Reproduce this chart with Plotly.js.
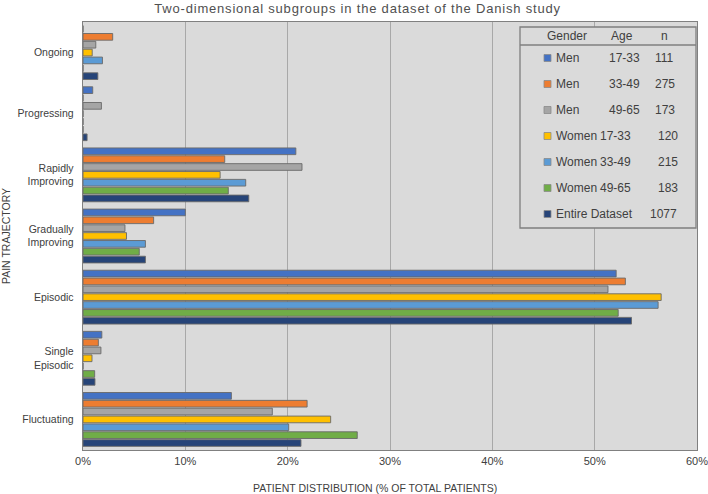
<!DOCTYPE html>
<html>
<head>
<meta charset="utf-8">
<script src="https://cdn.plot.ly/plotly-3.0.1.min.js"></script>
<style>html,body{margin:0;padding:0;background:#fff;}#chart{width:708px;height:494px;}
#chart .gtitle{letter-spacing:0.8px;}</style>
</head>
<body>
<div id="chart"></div>
<script>
// ---- data ----
const categories = ["Ongoing", "Progressing", "Rapidly<br>Improving", "Gradually<br>Improving", "Episodic", "Single<br>Episodic", "Fluctuating"];
const men1733   = [0,    0.95, 20.8, 10.0, 52.1, 1.84, 14.5];
const men3349   = [2.9,  0,    13.85, 6.9, 53.0, 1.5,  21.9];
const men4965   = [1.25, 1.8,  21.4, 4.1,  51.3, 1.75, 18.5];
const women1733 = [0.9,  0,    13.4, 4.25, 56.5, 0.88, 24.2];
const women3349 = [1.9,  0,    15.9, 6.1,  56.2, 0,    20.1];
const women4965 = [0,    0,    14.2, 5.5,  52.3, 1.14, 26.8];
const entire    = [1.45, 0.4,  16.2, 6.1,  53.6, 1.17, 21.3];
const genders = ["Men", "Men", "Men", "Women", "Women", "Women", "Entire Dataset"];
const ages    = ["17-33", "33-49", "49-65", "17-33", "33-49", "49-65", ""];
const counts  = ["111", "275", "173", "120", "215", "183", "1077"];
const xTickVals = [0, 10, 20, 30, 40, 50, 60];
const xTickText = ["0%", "10%", "20%", "30%", "40%", "50%", "60%"];

// ---- style ----
const colors = ["#4472C4", "#ED7D31", "#A5A5A5", "#FFC000", "#5B9BD5", "#70AD47", "#264478"];
const series = [men1733, men3349, men4965, women1733, women3349, women4965, entire];
const font = "Liberation Sans, Arial, sans-serif";
const textColor = "#404040";

const W = 708, H = 494, L = 83, R = 11, T = 22, B = 44;
const pw = W - L - R, ph = H - T - B;
const px = x => (x - L) / pw;
const py = y => (H - B - y) / ph;

const traces = series.map((vals, i) => ({
  type: "bar",
  orientation: "h",
  name: genders[i] + " " + ages[i],
  y: categories,
  x: vals,
  marker: {color: colors[i], line: {color: "rgba(105,105,105,0.9)", width: 1}},
  hoverinfo: "x+name"
}));

// legend box drawn with shapes + annotations
const shapes = [
  {type: "rect", xref: "paper", yref: "paper", x0: px(520), x1: px(696), y0: py(228), y1: py(27),
   fillcolor: "#DADADA", line: {color: "#7F7F7F", width: 1.3}, layer: "above"},
  {type: "line", xref: "paper", yref: "paper", x0: px(520), x1: px(696), y0: py(45), y1: py(45),
   line: {color: "#7F7F7F", width: 1.3}, layer: "above"}
];
const annotations = [];
const hdr = [["Gender", 567], ["Age", 622], ["n", 664]];
hdr.forEach(h => annotations.push({xref: "paper", yref: "paper", x: px(h[1]), y: py(36), text: h[0],
  showarrow: false, xanchor: "center", yanchor: "middle", font: {family: font, size: 12, color: textColor}}));
const rowY = [58, 84, 110, 136, 162, 188, 214];
genders.forEach((g, i) => {
  const y = rowY[i];
  shapes.push({type: "rect", xref: "paper", yref: "paper", x0: px(544), x1: px(551), y0: py(y + 3.5), y1: py(y - 3.5),
    fillcolor: colors[i], line: {color: "#8a8a8a", width: 0.8}, layer: "above"});
  annotations.push({xref: "paper", yref: "paper", x: px(554), y: py(y), text: g, showarrow: false,
    xanchor: "left", yanchor: "middle", font: {family: font, size: 12, color: textColor}});
  const isMen = g === "Men";
  if (ages[i]) {
    annotations.push({xref: "paper", yref: "paper", x: px(isMen ? 607 : 598), y: py(y), text: ages[i], showarrow: false,
      xanchor: "left", yanchor: "middle", font: {family: font, size: 12, color: textColor}});
  }
  annotations.push({xref: "paper", yref: "paper", x: px(ages[i] ? (isMen ? 653 : 656) : 648), y: py(y), text: counts[i], showarrow: false,
    xanchor: "left", yanchor: "middle", font: {family: font, size: 12, color: textColor}});
});
annotations.push({xref: "paper", yref: "paper", x: px(375), y: py(488), text: "PATIENT DISTRIBUTION (% OF TOTAL PATIENTS)",
  showarrow: false, xanchor: "center", yanchor: "middle", font: {family: font, size: 10.5, color: textColor}});

const layout = {
  width: W, height: H,
  margin: {l: L, r: R, t: T, b: B, pad: 0},
  paper_bgcolor: "#ffffff",
  plot_bgcolor: "#DADADA",
  title: {text: "Two-dimensional subgroups in the dataset of the Danish study",
          font: {family: font, size: 13, color: "#505050"}, x: 0.505, xanchor: "center", y: 0.982, yanchor: "middle"},
  barmode: "group",
  bargap: 0.1,
  bargroupgap: 0.15,
  showlegend: false,
  xaxis: {range: [0, 60], tickvals: xTickVals, ticktext: xTickText, showgrid: true, gridcolor: "#A8A8A8", gridwidth: 1,
          zeroline: false, showline: true, mirror: true, linecolor: "#808080", linewidth: 1.3, ticks: "",
          ticklabeloverflow: "allow",
          tickfont: {family: font, size: 11, color: textColor}, fixedrange: true},
  yaxis: {autorange: "reversed", type: "category", showgrid: false, zeroline: false, showline: true, mirror: true,
          linecolor: "#808080", linewidth: 1.3, ticks: "", ticklabelstandoff: 6,
          tickfont: {family: font, size: 10.5, color: textColor},
          title: {text: "PAIN TRAJECTORY", standoff: 9, font: {family: font, size: 10.5, color: textColor}}, fixedrange: true},
  shapes: shapes,
  annotations: annotations,
  font: {family: font, color: textColor}
};

Plotly.newPlot("chart", traces, layout, {displayModeBar: false, staticPlot: true});
</script>
</body>
</html>
